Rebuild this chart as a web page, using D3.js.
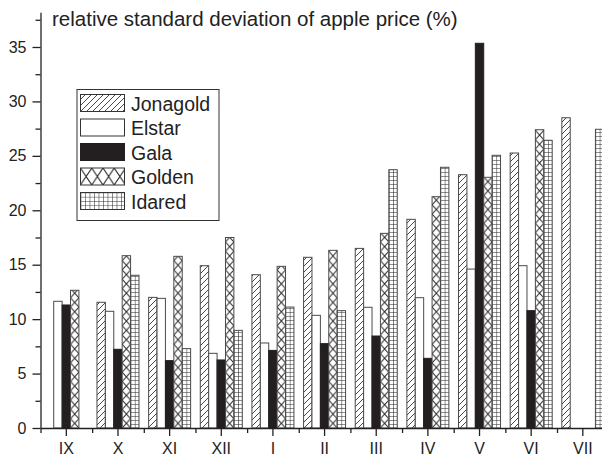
<!DOCTYPE html>
<html><head><meta charset="utf-8">
<script src="https://cdn.jsdelivr.net/npm/d3@7"></script>
<style>body{margin:0;background:#fff}svg{display:block;font-family:"Liberation Sans",Arial,sans-serif}</style>
</head><body><svg id="c" width="602" height="458"></svg>
<script>
const months = ["IX","X","XI","XII","I","II","III","IV","V","VI","VII"];
const varieties = ["Jonagold","Elstar","Gala","Golden","Idared"];
const jonagold = [null,11.55,12.0,14.91,14.08,15.68,16.5,19.17,23.27,25.26,28.5];
const elstar   = [11.64,10.72,11.91,6.86,7.81,10.35,11.09,11.97,14.6,14.91,null];
const gala     = [11.3,7.23,6.19,6.25,7.13,7.75,8.45,6.40,35.34,10.78,null];
const golden   = [12.65,15.83,15.77,17.5,14.85,16.32,17.88,21.25,23.03,27.4,null];
const idared   = [null,14.03,7.29,8.97,11.11,10.78,23.73,23.95,25.05,26.43,27.44];
const yTicks = [0,5,10,15,20,25,30,35];
const yMinor = [2.5,7.5,12.5,17.5,22.5,27.5,32.5,37.5];
const yTitle = "relative standard deviation of apple price (%)";

const seriesValues = {Jonagold: jonagold, Elstar: elstar, Gala: gala, Golden: golden, Idared: idared};

const svg = d3.select("#c");
const defs = svg.append("defs");
const ink = "#231f20", edge = "#4a4a4a";

const x0 = 40.5, step = 51.65, yBase = 428, unit = 10.886, yTop = 38.2;
const x = d3.scaleBand().domain(months).range([x0, x0 + months.length * step]).padding(0);
const inner = d3.scaleBand().domain(varieties).range([-21, 21]).padding(0);
const y = d3.scaleLinear().domain([0, yTop]).range([yBase, yBase - yTop * unit]);
const bw = inner.bandwidth();

// Jonagold hatch (shared)
const pj = defs.append("pattern").attr("id", "pj").attr("patternUnits", "userSpaceOnUse")
  .attr("width", 6).attr("height", 6);
pj.append("rect").attr("width", 6).attr("height", 6).attr("fill", "#fff");
pj.append("path").attr("d", "M0,6 L6,0 M-1.5,1.5 L1.5,-1.5 M4.5,7.5 L7.5,4.5")
  .attr("stroke", "#333").attr("stroke-width", 0.9);

function goldenPattern(id, px, py, w, h) {
  const p = defs.append("pattern").attr("id", id).attr("patternUnits", "userSpaceOnUse")
    .attr("x", px).attr("y", py).attr("width", w).attr("height", h);
  p.append("rect").attr("width", w).attr("height", h).attr("fill", "#fff");
  p.append("path").attr("d", `M0,0 L${w},${h} M${w},0 L0,${h}`)
    .attr("stroke", "#222").attr("stroke-width", 1);
}
function idaredPattern(id, px, py, w, h) {
  const p = defs.append("pattern").attr("id", id).attr("patternUnits", "userSpaceOnUse")
    .attr("x", px).attr("y", py).attr("width", w).attr("height", h);
  p.append("rect").attr("width", w).attr("height", h).attr("fill", "#fff");
  p.append("path").attr("d", `M0,0 L${w},0 M0,0 L0,${h}`)
    .attr("stroke", "#222").attr("stroke-width", 1);
}

function fillFor(v, i, bx) {
  if (v === "Jonagold") return "url(#pj)";
  if (v === "Elstar") return "#fff";
  if (v === "Gala") return ink;
  if (v === "Golden") { const id = "pg" + i; goldenPattern(id, bx, yBase, bw, 9.3); return `url(#${id})`; }
  const id = "pi" + i; idaredPattern(id, bx, yBase, bw / 2, 4); return `url(#${id})`;
}

const barData = [];
varieties.forEach(v => {
  seriesValues[v].forEach((val, i) => { if (val != null) barData.push({v, m: months[i], val, i}); });
});

const gBars = svg.append("g");
barData.forEach(d => {
  const bx = x(d.m) + x.bandwidth() / 2 + inner(d.v);
  gBars.append("rect")
    .attr("x", bx).attr("y", y(d.val))
    .attr("width", bw).attr("height", yBase - y(d.val))
    .attr("fill", fillFor(d.v, d.v + d.i, bx))
    .attr("stroke", d.v === "Gala" ? ink : edge).attr("stroke-width", 1);
});

// Axes
const axisColor = "#222";
const yAxis = svg.append("g").attr("transform", `translate(${x0},0)`)
  .call(d3.axisLeft(y).tickValues(yTicks).tickSize(8).tickPadding(6).tickSizeOuter(0));
const yAxisMinor = svg.append("g").attr("transform", `translate(${x0},0)`)
  .call(d3.axisLeft(y).tickValues(yMinor).tickSize(5).tickFormat("").tickSizeOuter(0));
yAxisMinor.select(".domain").remove();

const xAxis = svg.append("g").attr("transform", `translate(0,${yBase})`)
  .call(d3.axisBottom(x).tickSize(8).tickPadding(7).tickSizeOuter(0));
const xb = d3.scaleLinear().domain([0, months.length]).range(x.range());
const xAxisMinor = svg.append("g").attr("transform", `translate(0,${yBase})`)
  .call(d3.axisBottom(xb).tickValues(d3.range(0, months.length + 1)).tickSize(5).tickFormat("").tickSizeOuter(0));
xAxisMinor.select(".domain").remove();

svg.selectAll(".domain, .tick line").attr("stroke", axisColor).attr("stroke-width", 1.3);
svg.selectAll(".tick text").attr("fill", axisColor).style("font-size", "16px")
  .style("font-family", '"Liberation Sans", Arial, sans-serif');

svg.append("text").attr("x", 52).attr("y", 26).attr("fill", axisColor)
  .style("font-size", "20.5px").text(yTitle);

// Legend
const lg = svg.append("g");
lg.append("rect").attr("x", 77).attr("y", 89.5).attr("width", 142).attr("height", 131)
  .attr("fill", "#fff").attr("stroke", "#333").attr("stroke-width", 1);
varieties.forEach((v, k) => {
  const sy = 94.5 + k * 24.5, sx = 80.5;
  let f;
  if (v === "Golden") { goldenPattern("lg-g", sx, sy, 11.25, 17); f = "url(#lg-g)"; }
  else if (v === "Idared") { idaredPattern("lg-i", sx, sy, 4.5, 4.25); f = "url(#lg-i)"; }
  else f = fillFor(v, "lg" + k, sx);
  lg.append("rect").attr("x", sx).attr("y", sy).attr("width", 44).attr("height", 17)
    .attr("fill", f).attr("stroke", v === "Gala" ? ink : "#333").attr("stroke-width", 1);
  lg.append("text").attr("x", 131).attr("y", sy + 16).attr("fill", axisColor)
    .style("font-size", "19.5px").text(v);
});
</script></body></html>
